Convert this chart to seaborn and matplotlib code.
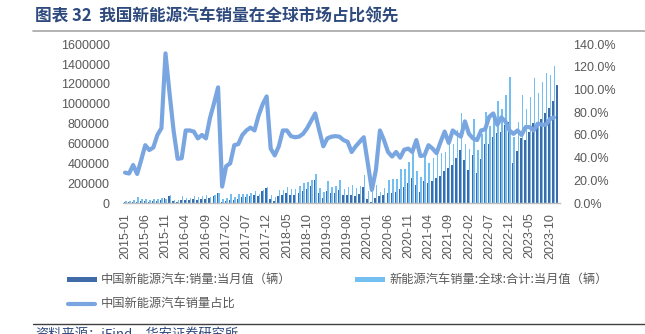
import numpy as np
import pandas as pd
import matplotlib
matplotlib.use("Agg")
import matplotlib.pyplot as plt
import seaborn as sns
from matplotlib.patches import Rectangle
from matplotlib.lines import Line2D

# Monthly categories, 2015-01 .. 2023-12
months = pd.date_range("2015-01-01", "2023-12-01", freq="MS").strftime("%Y-%m").tolist()

# China NEV sales per month (units)
china_sales = [
    6600, 6000, 10700, 15000, 17000, 21000, 15000, 19000, 24000, 32000, 52000, 72700,
    16500, 13000, 29000, 30000, 35000, 44000, 35000, 41000, 45000, 48000, 68000, 104000,
    5700, 17600, 31000, 33000, 44000, 57000, 56000, 68000, 78000, 72000, 120000, 148000,
    38000, 24600, 68000, 82000, 102000, 84000, 84000, 101000, 121000, 138000, 170000, 235000,
    96000, 53000, 126000, 97000, 104000, 134000, 80000, 85000, 80000, 75000, 95000, 163000,
    44000, 13000, 53000, 72000, 82000, 104000, 98000, 109000, 138000, 160000, 200000, 248000,
    179000, 110000, 226000, 206000, 217000, 256000, 271000, 321000, 357000, 383000, 450000, 531000,
    431000, 334000, 484000, 299000, 447000, 596000, 593000, 666000, 708000, 714000, 786000, 814000,
    408000, 525000, 653000, 636000, 717000, 806000, 780000, 843000, 904000, 956000, 1026000, 1191000,
]

# Global NEV sales per month (units); December 2023 not yet reported
global_sales = [
    24600, 23100, 31900, 58600, 44700, 41200, 32100, 38800, 40000, 48500, 39400, 77300,
    25800, 33300, 74400, 46900, 54700, 68800, 61400, 68300, 78900, 63200, 77300, 102000,
    35600, 52500, 88600, 64700, 86300, 95000, 87500, 103000, 122000, 92300, 136000, 157000,
    79200, 58600, 136000, 128000, 159000, 142000, 144000, 171000, 198000, 209000, 236000, 290000,
    150000, 106000, 221000, 166000, 176000, 235000, 144000, 157000, 178000, 150000, 176000, 281000,
    126000, 113000, 183000, 112000, 147000, 231000, 239000, 242000, 345000, 340000, 417000, 530000,
    322000, 265000, 538000, 404000, 452000, 582000, 502000, 510000, 674000, 598000, 738000, 908000,
    599000, 548000, 849000, 538000, 698000, 917000, 780000, 843000, 1026000, 946000, 1092000, 1272000,
    669000, 820000, 1088000, 949000, 1070000, 1259000, 1114000, 1222000, 1310000, 1292000, 1385000, np.nan,
]

# China's share of global NEV sales (%)
china_share = [
    26.8, 26.0, 33.5, 25.6, 38.0, 51.0, 46.7, 49.0, 60.0, 66.0, 132.0, 97.0,
    64.0, 39.0, 39.5, 64.0, 64.0, 63.0, 57.0, 60.0, 57.0, 75.0, 88.0, 102.0,
    14.5, 32.5, 35.0, 51.0, 52.0, 60.0, 64.0, 66.5, 64.0, 77.0, 87.0, 94.0,
    48.0, 42.0, 50.0, 64.0, 64.0, 59.0, 58.0, 58.5, 61.0, 66.0, 72.5, 79.0,
    64.0, 50.0, 57.0, 58.5, 59.0, 58.5, 55.5, 54.0, 45.0, 50.0, 54.0, 58.0,
    35.0, 11.5, 29.0, 64.0, 55.5, 45.0, 41.0, 45.0, 40.0, 47.0, 48.0, 45.0,
    55.5, 41.5, 42.0, 51.0, 48.0, 44.0, 54.0, 63.0, 53.0, 64.0, 61.0, 58.5,
    72.0, 61.0, 57.0, 55.5, 64.0, 65.0, 76.0, 79.0, 69.0, 75.5, 72.0, 64.0,
    61.0, 64.0, 60.0, 67.0, 67.0, 64.0, 70.0, 69.0, 69.0, 74.0, 75.5, np.nan,
]

CN_NAME = "中国新能源汽车:销量:当月值（辆）"
GL_NAME = "新能源汽车销量:全球:合计:当月值（辆）"
SHARE_NAME = "中国新能源汽车销量占比"
TITLE = "图表 32  我国新能源汽车销量在全球市场占比领先"
SOURCE = "资料来源：iFind，华安证券研究所"

DARK = "#3F6BA8"
LIGHT = "#74BFF2"
LINE = "#79A6E0"
TICK_GREY = "#595959"
AXIS_GREY = "#BFBFBF"
TITLE_BLUE = "#2E4A7D"

sns.set_style("white")
plt.rcParams["font.family"] = ["Liberation Sans", "Noto Sans CJK SC"]

W, H = 645, 334
fig = plt.figure(figsize=(W / 100, H / 100), dpi=100)

def fx(px):
    return px / W

def fy(py):
    return 1 - py / H

ax = fig.add_axes([fx(123), fy(203), fx(560) - fx(123), fy(44.3) - fy(203)])

df = pd.DataFrame({
    "month": months * 2,
    "sales": china_sales + global_sales,
    "series": [CN_NAME] * len(months) + [GL_NAME] * len(months),
})
df = df.dropna()
sns.barplot(data=df, x="month", y="sales", hue="series", order=months,
            hue_order=[CN_NAME, GL_NAME], palette=[DARK, LIGHT],
            width=0.74, saturation=1, errorbar=None, legend=False, ax=ax,
            linewidth=0, edgecolor="none")

ax2 = ax.twinx()
share_df = pd.DataFrame({"pos": np.arange(len(months)), "share": np.array(china_share) / 100})
share_df = share_df.dropna()
sns.lineplot(data=share_df, x="pos", y="share", color=LINE, lw=3.0, ax=ax2,
             legend=False, solid_capstyle="round", solid_joinstyle="round")

ax.set_xlim(-0.5, len(months) - 0.5)
ax2.set_xlim(-0.5, len(months) - 0.5)
ax.set_ylim(0, 1600000)
ax2.set_ylim(0, 1.4)

ax.set_yticks(np.arange(0, 1600001, 200000))
ax.set_yticklabels([f"{v:d}" for v in range(0, 1600001, 200000)])
ax2.set_yticks(np.arange(0, 1.401, 0.2))
ax2.set_yticklabels([f"{v * 100:.1f}%" for v in np.arange(0, 1.401, 0.2)])

tick_pos = list(range(0, len(months), 5))
ax.set_xticks(tick_pos)
ax.set_xticklabels([months[i] for i in tick_pos], rotation=90)

ax.set_xlabel("")
ax.set_ylabel("")
ax2.set_xlabel("")
ax2.set_ylabel("")

ax.tick_params(axis="y", length=0, pad=9.5, labelsize=9, labelcolor=TICK_GREY)
ax2.tick_params(axis="y", length=0, pad=9.5, labelsize=9, labelcolor=TICK_GREY)
ax.tick_params(axis="x", length=3, width=0.8, color=AXIS_GREY, pad=4,
               labelsize=9, labelcolor=TICK_GREY, direction="out")

for s in ["top", "left", "right"]:
    ax.spines[s].set_visible(False)
for s in ["top", "left", "right", "bottom"]:
    ax2.spines[s].set_visible(False)
ax.spines["bottom"].set_color(AXIS_GREY)
ax.spines["bottom"].set_linewidth(1)
ax.grid(False)
ax2.grid(False)

# Title and rules
fig.text(fx(35), fy(16), TITLE, fontsize=12, weight="bold", color=TITLE_BLUE,
         va="center", ha="left", family=["Noto Sans CJK SC"])
fig.add_artist(Line2D([fx(33), 1], [fy(31), fy(31)], color="#A6A6A6", lw=1.2))
fig.add_artist(Line2D([fx(33), 1], [fy(323.5), fy(323.5)], color="#3F3F3F", lw=1.0))
fig.text(fx(35), fy(328), SOURCE, fontsize=9.5, color=TITLE_BLUE, va="top", ha="left",
         family=["Noto Sans CJK SC"])

# Legend
leg_font = dict(fontsize=8.8, color=TICK_GREY, va="center", ha="left",
                family=["Noto Sans CJK SC", "DejaVu Sans"])
fig.add_artist(Rectangle((fx(67), fy(282)), fx(97) - fx(67), fy(277) - fy(282),
                         transform=fig.transFigure, color=DARK, lw=0))
fig.text(fx(101), fy(279.5), CN_NAME, **leg_font)
fig.add_artist(Rectangle((fx(355), fy(282)), fx(385) - fx(355), fy(277) - fy(282),
                         transform=fig.transFigure, color=LIGHT, lw=0))
fig.text(fx(389), fy(279.5), GL_NAME, **leg_font)
fig.add_artist(Line2D([fx(68), fx(95)], [fy(303.5), fy(303.5)], color=LINE, lw=3.0,
                      solid_capstyle="round"))
fig.text(fx(101), fy(303.5), SHARE_NAME, **leg_font)

fig.savefig("out.png", dpi=100)
